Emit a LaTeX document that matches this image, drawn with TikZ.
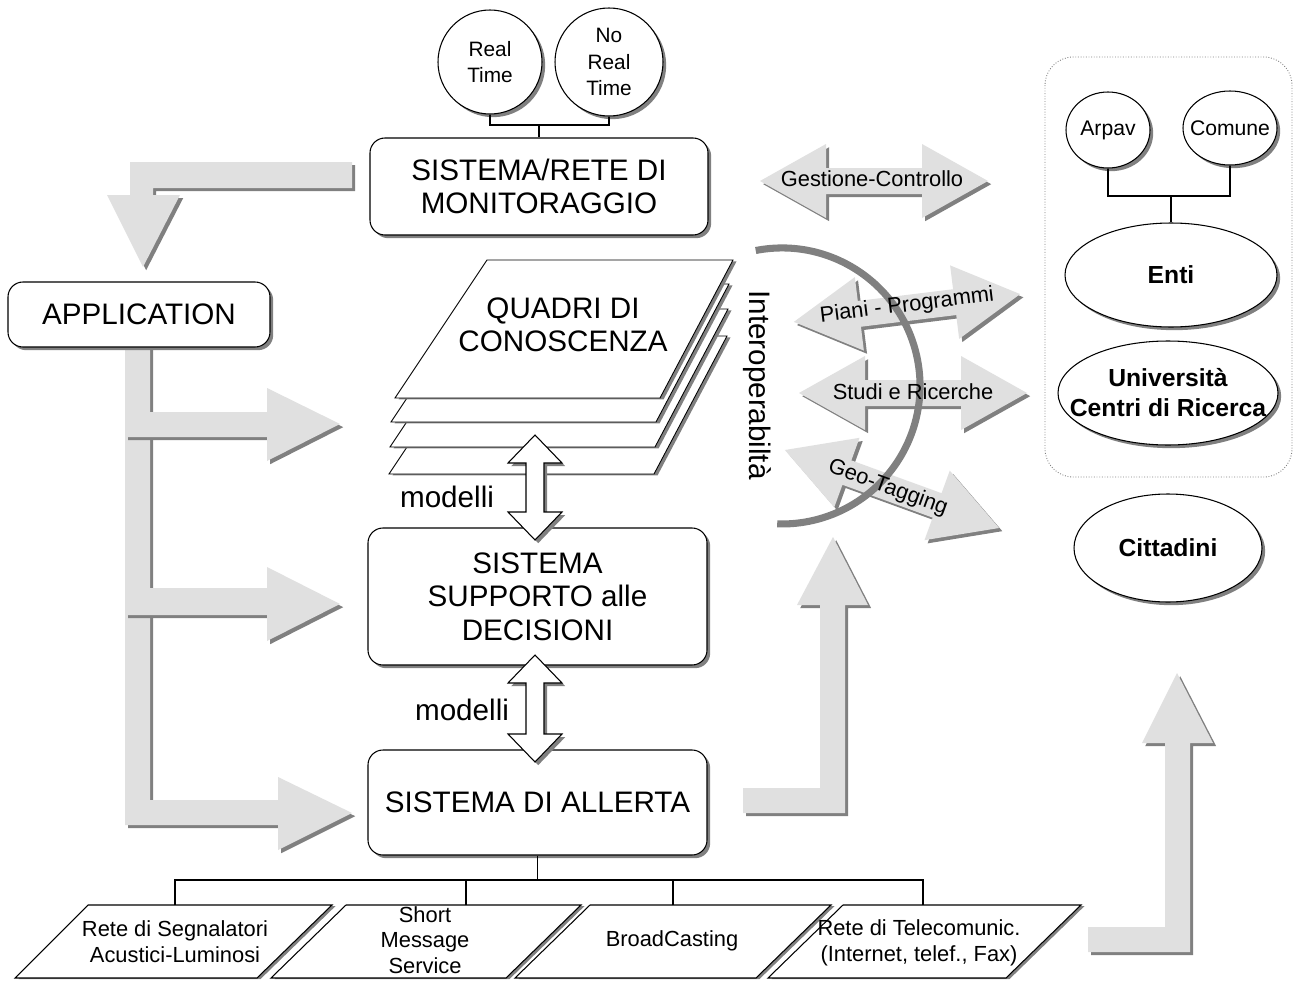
\documentclass[tikz,border=0pt]{standalone}
\usepackage{fontspec}
\setmainfont{Liberation Sans}
\usetikzlibrary{shapes.geometric,shadows}

\definecolor{bandgray}{HTML}{E0E0E0}
\definecolor{shadegray}{HTML}{808080}

\tikzset{
  shd/.style={drop shadow={shadow xshift=1.8pt,shadow yshift=-1.8pt,opacity=1,fill=shadegray}},
  bigtxt/.style={font=\fontsize{16.8}{19}\selectfont},
  smalltxt/.style={font=\fontsize{12.4}{14.6}\selectfont},
  wh/.style 2 args={minimum width={#1*0.567pt},minimum height={#2*0.567pt}},
  sysbox/.style={draw=black,line width=0.6pt,fill=white,rounded corners=8.5pt,
    align=center,inner sep=0pt,bigtxt,shd},
  circ/.style={circle,draw=black,line width=0.6pt,fill=white,inner sep=0pt,
    minimum size={#1*0.567pt},shd},
  circtxt/.style={align=center,font=\fontsize{11.8}{15}\selectfont},
  ell/.style={ellipse,draw=black,line width=0.6pt,fill=white,inner sep=0pt,shd},
  elltxt/.style={align=center,font=\fontsize{12}{14}\selectfont},
  ellbold/.style={align=center,font=\fontsize{14}{17}\selectfont\bfseries},
  band/.style={fill=bandgray,shd},
  wire/.style={draw=black,line width=0.6pt},
  sheet/.style={draw=black,line width=0.5pt,fill=white,
    drop shadow={shadow xshift=2pt,shadow yshift=-0.8pt,opacity=1,fill=shadegray}},
  plg/.style={draw=black,line width=0.6pt,fill=white,
    drop shadow={shadow xshift=2pt,shadow yshift=-0.6pt,opacity=1,fill=shadegray}},
  modarrow/.style={draw=black,line width=0.6pt,fill=white,shd},
  dblarrow/.pic={
    \fill[band] (-114,0) -- (-48,-37) -- (-48,-13) -- (48,-13) -- (48,-37)
      -- (114,0) -- (48,37) -- (48,13) -- (-48,13) -- (-48,37) -- cycle;
  },
  paper/.pic={
    \path[sheet] (487,260) -- (733,260) -- (660,398) -- (395,398) -- cycle;
  }
}

\begin{document}
\begin{tikzpicture}[x=0.567pt,y=-0.567pt]
\useasboundingbox (0,0) rectangle (1298,981);
\fill[white] (0,0) rectangle (1298,981);

% ---- wide grey flow arrows ----
% from the monitoring network down to APPLICATION
\fill[band] (352,162) -- (130,162) -- (130,195) -- (107,195) -- (143,267)
  -- (180,195) -- (153,195) -- (153,188) -- (352,188) -- cycle;
% branches from APPLICATION to the three systems
\fill[band] (125,615) -- (150,615) -- (150,800) -- (278,800) -- (278,777)
  -- (352,813) -- (278,850) -- (278,825) -- (125,825) -- cycle;
\fill[band] (125,437) -- (150,437) -- (150,588) -- (267,588) -- (267,567)
  -- (340,604) -- (267,641) -- (267,615) -- (125,615) -- cycle;
\fill[band] (125,342) -- (150,342) -- (150,412) -- (267,412) -- (267,388)
  -- (340,424) -- (267,461) -- (267,437) -- (125,437) -- cycle;
% from the alert system up to the exchange arrows
\fill[band] (743,788) -- (820,788) -- (820,605) -- (797,605) -- (833,537)
  -- (868,605) -- (845,605) -- (845,813) -- (743,813) -- cycle;
% from the alert channels up to the citizens
\fill[band] (1088,927) -- (1165,927) -- (1165,743) -- (1142,743) -- (1177,673)
  -- (1213,743) -- (1190,743) -- (1190,952) -- (1088,952) -- cycle;

% ---- data sources ----
\node[circ=104] (rt) at (490,62) {};
\node[circtxt] (rttxt) at (rt.center) {Real\\Time};
\node[circ=108] (nrt) at (609,62) {};
\node[circtxt] (nrttxt) at (nrt.center) {No\\Real\\Time};

% ---- main systems ----
\node[sysbox,wh={338}{97}] (mon) at (539,186.5) {SISTEMA/RETE DI\\MONITORAGGIO};
\node[sysbox,wh={262}{65}] (app) at (139,314.5) {APPLICATION};
\node[sysbox,wh={339}{137}] (dss) at (537.5,596.5) {SISTEMA\\SUPPORTO alle\\DECISIONI};
\node[sysbox,wh={339}{105}] (alr) at (537.5,802.5) {SISTEMA DI ALLERTA};

\coordinate (cj) at (539,125);
\draw[wire] (rt.south) |- (cj) -| (nrt.south);
\draw[wire] (cj) -- (mon.north);

% ---- knowledge layers ----
\pic at (-6,76) {paper};
\pic at (-5,49) {paper};
\pic at (-4,24) {paper};
\pic at (0,0) {paper};
\node[bigtxt,align=center] (quadri) at (563,325) {QUADRI DI\\CONOSCENZA};
\node[bigtxt,rotate=-90] (interop) at (757,385) {Interoperabiltà};

% ---- model exchange arrows ----
\path[modarrow] (535,435) -- (562,463) -- (544,463) -- (544,512) -- (562,512)
  -- (535,540) -- (508,512) -- (526,512) -- (526,463) -- (508,463) -- cycle;
\path[modarrow] (535,655) -- (562,683) -- (544,683) -- (544,734) -- (562,734)
  -- (535,762) -- (508,734) -- (526,734) -- (526,683) -- (508,683) -- cycle;
\node[bigtxt] (mod1) at (447,497) {modelli};
\node[bigtxt] (mod2) at (462,710) {modelli};

% ---- alert channels ----
\path[plg] (88,905) -- (332,905) -- (257,978) -- (15,978) -- cycle;
\path[plg] (346,905) -- (581,905) -- (506,978) -- (271,978) -- cycle;
\path[plg] (590,905) -- (831,905) -- (756,978) -- (515,978) -- cycle;
\path[plg] (843,905) -- (1081,905) -- (1006,978) -- (768,978) -- cycle;
\node[smalltxt,align=center] (ch1) at (175,942) {Rete di Segnalatori\\Acustici-Luminosi};
\node[smalltxt,align=center] (ch2) at (425,940) {Short\\Message\\Service};
\node[smalltxt] (ch3) at (672,941) {BroadCasting};
\node[smalltxt,align=center] (ch4) at (919,943) {Rete di Telecomunic.\\(Internet, telef., Fax)};
\coordinate (p1t) at (175,905);
\coordinate (p2t) at (466,905);
\coordinate (p3t) at (673,905);
\coordinate (p4t) at (923,905);
\coordinate (bj) at (537.5,880);
\draw[wire] (alr.south) -- (bj);
\draw[wire] (p1t) |- (bj) -| (p4t);
\draw[wire] (p2t) -- (p2t |- bj);
\draw[wire] (p3t) -- (p3t |- bj);

% ---- exchanges with the stakeholders ----
\pic at (874,181) {dblarrow};
\pic[rotate=7] at (907,308) {dblarrow};
\pic at (913,393) {dblarrow};
\pic[rotate=-20] at (892,489) {dblarrow};
\draw[shadegray,line width=4pt] (755.7,250.5) arc[start angle=-101,end angle=92,radius=138];
\node[smalltxt] (gc) at (872,179) {Gestione-Controllo};
\node[smalltxt,rotate=7] (pp) at (907,306) {Piani - Programmi};
\node[smalltxt] (sr) at (913,392) {Studi e Ricerche};
\node[smalltxt,rotate=-20] (gt) at (888,488) {Geo-Tagging};

% ---- stakeholders ----
\draw[shadegray,densely dotted,line width=0.5pt,rounded corners=16pt]
  (1045,57) rectangle (1292,477);
\node[ell,wh={84}{76}] (arpav) at (1108,130) {};
\node[elltxt] (arpavtxt) at (arpav.center) {Arpav};
\node[ell,wh={94}{74}] (comune) at (1230,128) {};
\node[elltxt] (comunetxt) at (comune.center) {Comune};
\node[ell,wh={212}{104}] (enti) at (1171,275) {};
\node[ellbold] (entitxt) at (enti.center) {Enti};
\node[ell,wh={220}{104}] (univ) at (1168,393) {};
\node[ellbold] (univtxt) at (univ.center) {Università\\Centri di Ricerca};
\node[ell,wh={188}{108}] (citt) at (1168,548) {};
\node[ellbold] (citttxt) at (citt.center) {Cittadini};
\coordinate (ej) at (1171,196);
\draw[wire] (arpav.south) |- (ej) -| (comune.south);
\draw[wire] (ej) -- (enti.north);
\end{tikzpicture}
\end{document}
